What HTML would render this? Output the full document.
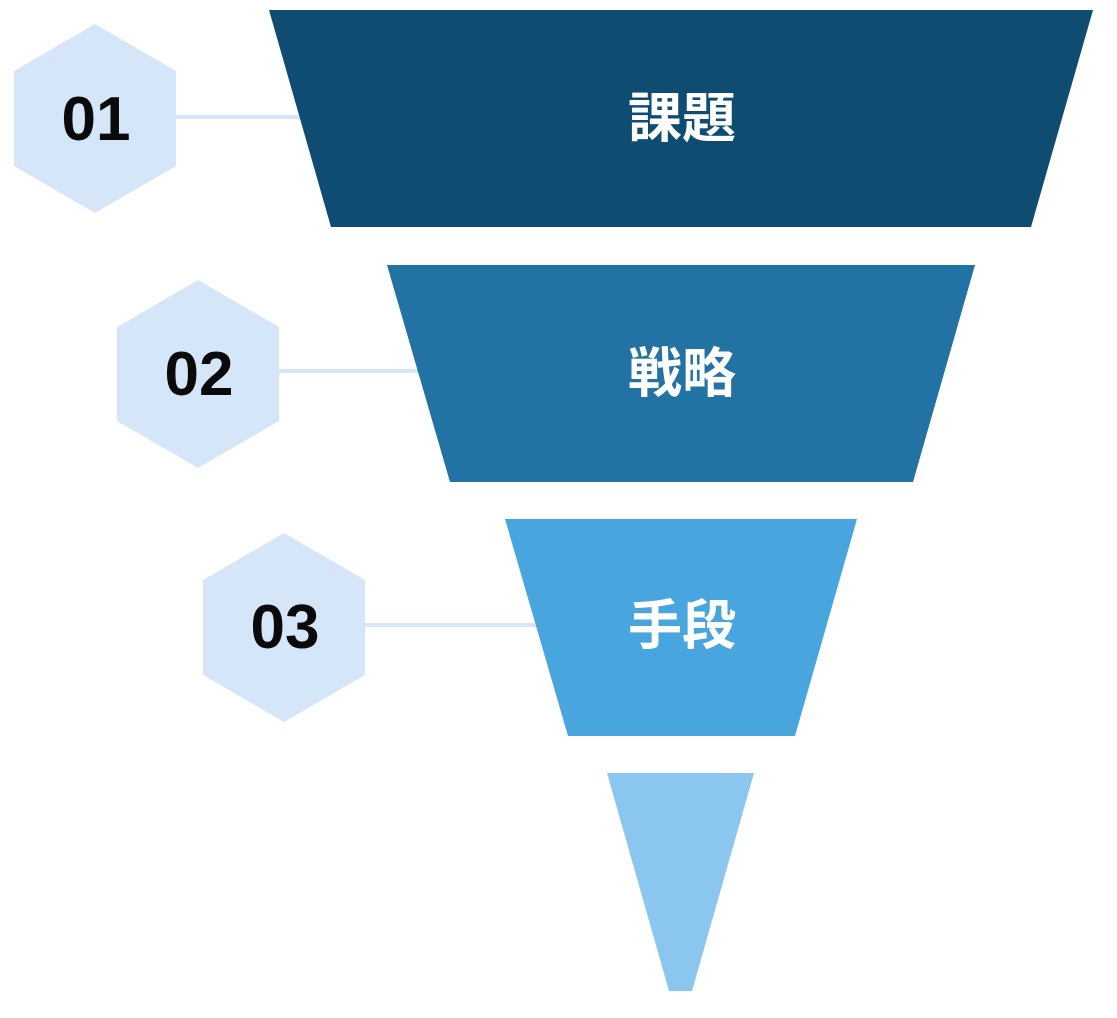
<!DOCTYPE html>
<html><head><meta charset="utf-8"><style>
html,body{margin:0;padding:0;background:#fff;}
svg{display:block;}
</style></head><body>
<svg width="1117" height="1018" viewBox="0 0 1117 1018" xmlns="http://www.w3.org/2000/svg">
<rect width="1117" height="1018" fill="#fff"/>
<g stroke="#d4e6f8" stroke-width="4">
<line x1="170" y1="117" x2="302" y2="117"/>
<line x1="275" y1="371" x2="420" y2="371"/>
<line x1="360" y1="625" x2="538" y2="625"/>
</g>
<polygon points="269,10 1093,10 1031,227 331,227" fill="#0f4c72"/>
<polygon points="387,265 975,265 913,482 450,482" fill="#2372a4"/>
<polygon points="505,519 857,519 795,736 568,736" fill="#48a5de"/>
<polygon points="607,773 754,773 692,991 669,991" fill="#8bc6ef"/>
<g fill="#d4e6f8">
<polygon points="95,24 176,71 176,166 95,213 14,166 14,71"/>
<polygon points="198,280 279,327 279,421 198,468 117,421 117,327"/>
<polygon points="284,533 365,580 365,675 284,722 203,675 203,580"/>
</g>
<g font-family="Liberation Sans, sans-serif" font-weight="bold" font-size="62" fill="#0a0a0a" text-anchor="middle">
<text x="96" y="140">01</text>
<text x="199" y="395">02</text>
<text x="285" y="648">03</text>
</g>
<g font-family="'Liberation Sans','Noto Sans CJK JP',sans-serif" font-weight="bold" font-size="54" fill="#fff" text-anchor="middle">
<text x="682" y="137">課題</text>
<text x="682" y="392">戦略</text>
<text x="682" y="644">手段</text>
</g>
</svg>
</body></html>
